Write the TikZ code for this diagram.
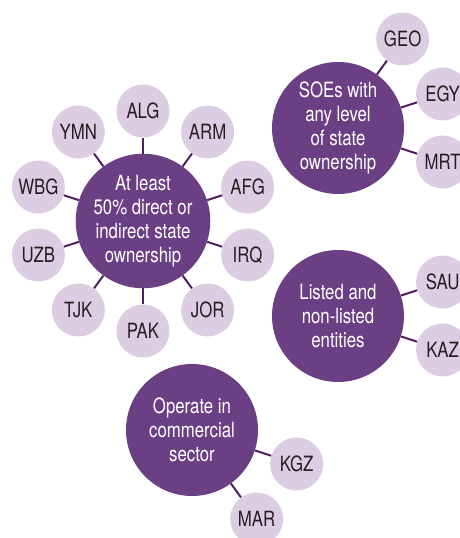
\documentclass[tikz,border=0pt]{standalone}
\usepackage{fontspec}
\setmainfont{TeX Gyre Heros}[FakeStretch=0.8]
\usepackage{tikz}
\definecolor{hubpurple}{RGB}{107,63,132}
\definecolor{leafpurple}{RGB}{221,205,226}
\definecolor{edgepurple}{RGB}{78,32,98}
\definecolor{leaftext}{RGB}{35,31,32}

\begin{document}
\begin{tikzpicture}[x=1pt,y=1pt,
  hub/.style={circle,fill=hubpurple,text=white,minimum size=132pt,inner sep=0pt,align=center,font={\fontsize{21}{23.8}\selectfont}},
  leaf/.style={circle,fill=leafpurple,text=leaftext,minimum size=53pt,inner sep=0pt,font={\fontsize{21}{22}\selectfont}},
  level distance=110pt, sibling distance=0pt,
  edge from parent/.style={draw=edgepurple,line width=2pt}]
\useasboundingbox (0,0) rectangle (459,538);

\node [hub] (own) at (143,317) {At least\\50\% direct or\\indirect state\\ownership}
  child [grow=90] {node [leaf] (alg) {ALG}}
  child [grow=54] {node [leaf] (arm) {ARM}}
  child [grow=18] {node [leaf] (afg) {AFG}}
  child [grow=-18] {node [leaf] (irq) {IRQ}}
  child [grow=-54] {node [leaf] (jor) {JOR}}
  child [grow=-90] {node [leaf] (pak) {PAK}}
  child [grow=-126] {node [leaf] (tjk) {TJK}}
  child [grow=-162] {node [leaf] (uzb) {UZB}}
  child [grow=162] {node [leaf] (wbg) {WBG}}
  child [grow=126] {node [leaf] (ymn) {YMN}};

\node [hub] (soe) at (338,410) {SOEs with\\any level\\of state\\ownership}
  child [grow=54] {node [leaf] (geo) {GEO}}
  child [grow=18] {node [leaf] (egy) {EGY}}
  child [grow=-18] {node [leaf] (mrt) {MRT}};

\node [hub] (list) at (338,222) {Listed and\\non-listed\\entities}
  child [grow=18] {node [leaf] (sau) {SAU}}
  child [grow=-18] {node [leaf] (kaz) {KAZ}};

\node [hub] (oper) at (192,108) {Operate in\\commercial\\sector}
  child [grow=-18] {node [leaf] (kgz) {KGZ}}
  child [grow=-54] {node [leaf] (mar) {MAR}};
\end{tikzpicture}
\end{document}
